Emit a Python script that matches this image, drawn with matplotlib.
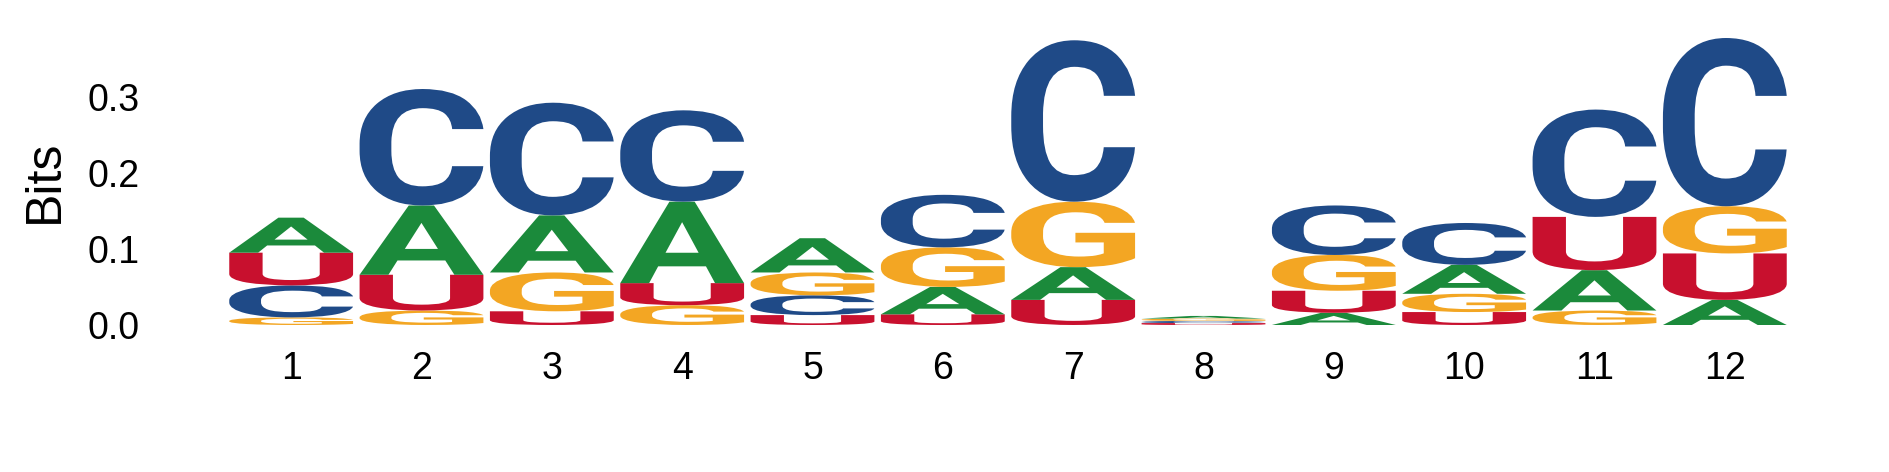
import matplotlib
matplotlib.use("Agg")
import matplotlib.pyplot as plt
from matplotlib.textpath import TextPath
from matplotlib.patches import PathPatch
from matplotlib.font_manager import FontProperties
from matplotlib.transforms import Affine2D

# ---- data (information content in bits per letter, per position) ----
positions = list(range(1, 13))
bits_A = [0.046, 0.091, 0.075, 0.107, 0.045, 0.036, 0.043, 0.0035, 0.016, 0.038, 0.053, 0.033]
bits_C = [0.042, 0.153, 0.148, 0.120, 0.026, 0.069, 0.212, 0.0028, 0.065, 0.055, 0.141, 0.221]
bits_G = [0.010, 0.019, 0.051, 0.026, 0.030, 0.052, 0.086, 0.0031, 0.047, 0.024, 0.019, 0.062]
bits_U = [0.043, 0.047, 0.018, 0.029, 0.013, 0.014, 0.033, 0.0025, 0.029, 0.017, 0.070, 0.061]
y_ticks = [0.0, 0.1, 0.2, 0.3]
y_tick_labels = ["0.0", "0.1", "0.2", "0.3"]

colors = {"A": "#1B8A3B", "C": "#1F4A87", "G": "#F3A623", "U": "#C8102E"}
letter_font = FontProperties(family="Roboto", weight="bold")
glyph_width = 0.95

W, H, DPI = 1889, 472, 100
fig = plt.figure(figsize=(W / DPI, H / DPI), dpi=DPI)
ax = fig.add_axes([226 / W, (H - 325) / H, (1790 - 226) / W, (325 - 38) / H])

def draw_glyph(ax, ch, x, y0, h, color):
    path = TextPath((0, 0), ch, size=1, prop=letter_font)
    ext = path.get_extents()
    tr = (Affine2D()
          .translate(-ext.x0, -ext.y0)
          .scale(glyph_width / ext.width, h / ext.height)
          .translate(x - glyph_width / 2, y0))
    ax.add_patch(PathPatch(tr.transform_path(path), facecolor=color,
                           edgecolor="none", lw=0))

totals = []
for i, pos in enumerate(positions):
    col = [("A", bits_A[i]), ("C", bits_C[i]), ("G", bits_G[i]), ("U", bits_U[i])]
    col.sort(key=lambda t: t[1])
    y = 0.0
    for ch, h in col:
        draw_glyph(ax, ch, pos, y, h, colors[ch])
        y += h
    totals.append(y)

ax.set_xlim(0.5, len(positions) + 0.5)
ax.set_ylim(0, max(totals))
ax.set_xticks(positions)
ax.set_xticklabels([str(p) for p in positions])
ax.set_yticks(y_ticks)
ax.set_yticklabels(y_tick_labels)
for s in ax.spines.values():
    s.set_visible(False)
ax.tick_params(axis="both", length=0, labelsize=27)
ax.tick_params(axis="y", pad=62)
ax.tick_params(axis="x", pad=19)
for lab in ax.get_xticklabels() + ax.get_yticklabels():
    lab.set_fontfamily("Liberation Sans")
ax.set_ylabel("Bits", fontsize=36, family="Liberation Sans", labelpad=14)

fig.savefig("out.png", dpi=DPI)
